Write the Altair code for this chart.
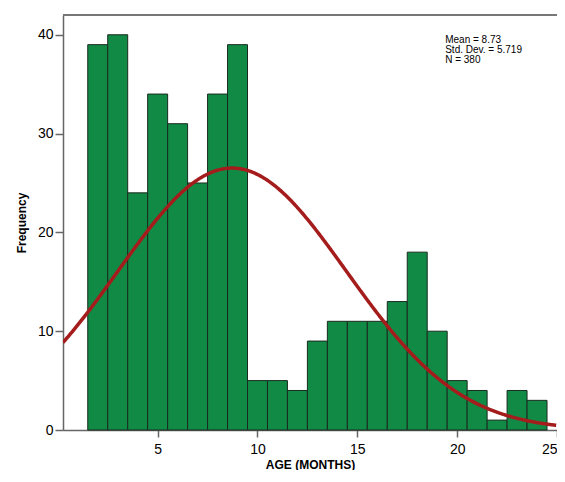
import altair as alt
import pandas as pd

# Histogram bins (centre of each 1-month bin) and counts
bin_centers = [2, 3, 4, 5, 6, 7, 8, 9, 10, 11, 12, 13, 14, 15, 16, 17, 18, 19, 20, 21, 22, 23, 24]
counts = [39, 40, 24, 34, 31, 25, 34, 39, 5, 5, 4, 9, 11, 11, 11, 13, 18, 10, 5, 4, 1, 4, 3]

# Summary statistics shown on the chart
MEAN = 8.73
SD = 5.719
N = 380
BIN_WIDTH = 1.0
stats_lines = ["Mean = 8.73", "Std. Dev. = 5.719", "N = 380"]

x_ticks = [5, 10, 15, 20, 25]
y_ticks = [0, 10, 20, 30, 40]
X_DOMAIN = [0.26, 25.0]
Y_DOMAIN = [0, 42]

bars_df = pd.DataFrame({
    "start": [c - BIN_WIDTH / 2 for c in bin_centers],
    "end": [c + BIN_WIDTH / 2 for c in bin_centers],
    "count": counts,
    "base": [0] * len(counts),
})

xscale = alt.Scale(domain=X_DOMAIN, nice=False, zero=False)
yscale = alt.Scale(domain=Y_DOMAIN, nice=False)

x_axis = alt.Axis(values=x_ticks, title="AGE (MONTHS)", grid=False,
                  labelFontSize=14, labelColor="black", labelPadding=5,
                  labelFlush=True, labelOverlap=False,
                  tickSize=7, tickColor="#666666", tickWidth=1.5,
                  domainColor="#666666", domainWidth=1.5,
                  titleFontSize=12, titleFontWeight="bold", titleColor="black",
                  titlePadding=3)
y_axis = alt.Axis(values=y_ticks, title="Frequency", grid=False,
                  labelFontSize=14, labelColor="black", labelPadding=2,
                  labelFlush=False,
                  tickSize=8, tickColor="#666666", tickWidth=1.5,
                  domainColor="#666666", domainWidth=1.5,
                  titleFontSize=12, titleFontWeight="bold", titleColor="black",
                  titlePadding=9)

bars = alt.Chart(bars_df).mark_bar(
    color="#118a46", stroke="#1a2a1f", strokeWidth=1
).encode(
    x=alt.X("start:Q", scale=xscale, axis=x_axis),
    x2="end:Q",
    y=alt.Y("count:Q", scale=yscale, axis=y_axis),
    y2="base:Q",
)

curve = alt.Chart(alt.sequence(X_DOMAIN[0], X_DOMAIN[1] + 0.01, 0.05, as_="age")).transform_calculate(
    freq=f"{N * BIN_WIDTH} * densityNormal(datum.age, {MEAN}, {SD})"
).mark_line(color="#a51c1c", strokeWidth=3.5, clip=True).encode(
    x=alt.X("age:Q", scale=xscale),
    y=alt.Y("freq:Q", scale=yscale),
)

top_rule = alt.Chart(pd.DataFrame({"v": [Y_DOMAIN[1]]})).mark_rule(
    color="#777777", strokeWidth=2
).encode(y=alt.Y("v:Q", scale=yscale))

stats = alt.Chart(pd.DataFrame({"x": [19.4], "y": [40.0]})).mark_text(
    text=stats_lines, align="left", baseline="top", fontSize=10,
    lineHeight=10, font="Liberation Sans", color="black"
).encode(x=alt.X("x:Q", scale=xscale), y=alt.Y("y:Q", scale=yscale))

chart = alt.layer(bars, curve, top_rule, stats).properties(
    width=494, height=415,
    autosize=alt.AutoSizeParams(type="none"),
    padding={"left": 55, "top": 7, "right": 0, "bottom": 40},
).configure_view(stroke=None).configure(font="Liberation Sans")

chart.save("out.html", embed_options={"renderer": "svg", "actions": False})
